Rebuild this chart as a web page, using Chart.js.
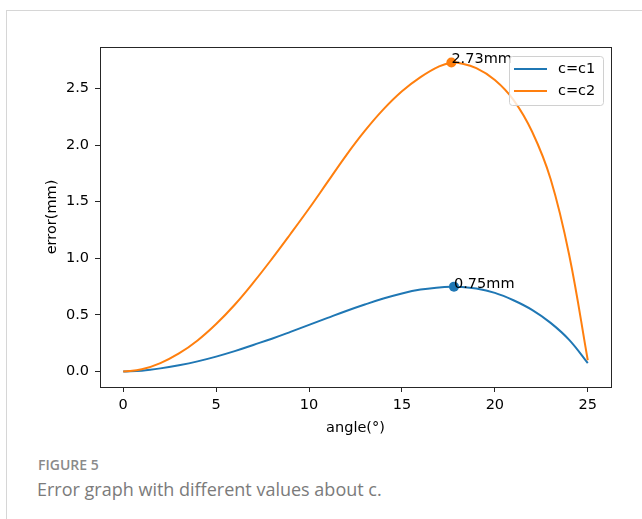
<!DOCTYPE html>
<html>
<head>
<meta charset="utf-8">
<script src="https://cdn.jsdelivr.net/npm/chart.js@4.4.0/dist/chart.umd.min.js"></script>
<style>
  body { margin: 0; background: #fff; }
  #frame { position: absolute; left: 6px; top: 10px; width: 700px; height: 520px;
           border-left: 1px solid #d6d6d6; border-top: 1px solid #d6d6d6; }
  #wrap { position: absolute; left: 0; top: 0; width: 642px; height: 440px; }
  .cap1 { position: absolute; left: 38px; top: 455px; font: 600 14px 'Open Sans'; color: #8a8a8a; }
  .cap2 { position: absolute; left: 37px; top: 477px; font: 18px 'Open Sans'; color: #7b7b7b; }
</style>
</head>
<body>
<div id="frame"></div>
<div id="wrap"><canvas id="errorChart" width="642" height="440"></canvas></div>
<div class="cap1">FIGURE 5</div>
<div class="cap2">Error graph with different values about c.</div>
<script>
// angle in degrees
const angles = [0, 1, 2, 3, 4, 5, 6, 7, 8, 9, 10, 11, 12, 13, 14, 15, 16, 17, 17.7, 18, 19, 20, 21, 22, 23, 24, 25];
const errC1 = [0, 0.008, 0.028, 0.056, 0.09, 0.132, 0.18, 0.235, 0.29, 0.35, 0.412, 0.474, 0.535, 0.592, 0.645, 0.69, 0.724, 0.743, 0.75, 0.75, 0.733, 0.695, 0.63, 0.545, 0.43, 0.28, 0.075];
const errC2 = [0, 0.02, 0.075, 0.16, 0.275, 0.42, 0.59, 0.785, 0.995, 1.215, 1.44, 1.675, 1.91, 2.125, 2.315, 2.475, 2.60, 2.695, 2.73, 2.727, 2.68, 2.575, 2.40, 2.12, 1.70, 1.03, 0.10];
const seriesNames = ['c=c1', 'c=c2'];
const peakAngles = [17.8, 17.66];
const peakErrors = [0.75, 2.73];
const peakLabels = ['0.75mm', '2.73mm'];
const xTicks = [0, 5, 10, 15, 20, 25];
const yTicks = [0, 0.5, 1.0, 1.5, 2.0, 2.5];

const blue = '#1f77b4';
const orange = '#ff7f0e';
const FONT = 'DejaVu Sans';
const FSIZE = 14.5;

function toPoints(xs, ys){
  return xs.map((x, i) => ({x: x, y: ys[i]}));
}

// box around the axes, legend and the peak labels
const extras = {
  id: 'extras',
  afterDraw(chart){
    const ctx = chart.ctx;
    const a = chart.chartArea;
    const xs = chart.scales.x, ys = chart.scales.y;
    ctx.save();
    ctx.strokeStyle = '#262626';
    ctx.lineWidth = 1;
    ctx.strokeRect(Math.round(a.left) + 0.5, Math.round(a.top) + 0.5, Math.round(a.right - a.left), Math.round(a.bottom - a.top));

    // peak labels
    ctx.fillStyle = '#000';
    ctx.font = FSIZE + 'px "' + FONT + '"';
    ctx.textAlign = 'left';
    ctx.textBaseline = 'alphabetic';
    peakLabels.forEach((t, i) => {
      ctx.fillText(t, xs.getPixelForValue(peakAngles[i]), ys.getPixelForValue(peakErrors[i]) + 1);
    });

    // legend
    const bw = 94, bh = 49;
    const bx = a.right - 8 - bw, by = a.top + 9;
    ctx.beginPath();
    ctx.roundRect(bx + 0.5, by + 0.5, bw, bh, 3);
    ctx.fillStyle = 'rgba(255,255,255,0.8)';
    ctx.fill();
    ctx.strokeStyle = '#d0d0d0';
    ctx.stroke();
    const cols = [blue, orange];
    ctx.textBaseline = 'middle';
    seriesNames.forEach((n, i) => {
      const yy = by + 13 + i * 22;
      ctx.beginPath();
      ctx.moveTo(bx + 5, yy);
      ctx.lineTo(bx + 38, yy);
      ctx.strokeStyle = cols[i];
      ctx.lineWidth = 2;
      ctx.stroke();
      ctx.fillStyle = '#000';
      ctx.fillText(n, bx + 49, yy);
    });
    ctx.restore();
  }
};

const ctx = document.getElementById('errorChart');
new Chart(ctx, {
  type: 'line',
  data: {
    datasets: [
      {
        label: seriesNames[0],
        data: toPoints(angles, errC1),
        borderColor: blue,
        borderWidth: 2,
        pointRadius: 0,
        tension: 0.4,
        order: 4
      },
      {
        label: seriesNames[1],
        data: toPoints(angles, errC2),
        borderColor: orange,
        borderWidth: 2,
        pointRadius: 0,
        tension: 0.4,
        order: 3
      },
      {
        label: 'peak c1',
        data: [{x: peakAngles[0], y: peakErrors[0]}],
        showLine: false,
        pointRadius: 5,
        pointBackgroundColor: blue,
        pointBorderWidth: 0,
        order: 2
      },
      {
        label: 'peak c2',
        data: [{x: peakAngles[1], y: peakErrors[1]}],
        showLine: false,
        pointRadius: 5,
        pointBackgroundColor: orange,
        pointBorderWidth: 0,
        order: 1
      }
    ]
  },
  options: {
    responsive: false,
    animation: false,
    layout: { padding: { left: 40, top: 47, right: 31, bottom: 0 } },
    scales: {
      x: {
        type: 'linear',
        min: -1.25,
        max: 26.25,
        afterFit: s => { s.height = 53; },
        afterBuildTicks: s => { s.ticks = xTicks.map(v => ({value: v})); },
        ticks: { color: '#000', padding: 5, font: { family: FONT, size: FSIZE }, callback: v => String(v) },
        grid: { drawOnChartArea: false, tickLength: 5, color: '#262626' },
        border: { display: false },
        title: { display: true, text: 'angle(°)', color: '#000', font: { family: FONT, size: FSIZE }, padding: { top: 2, bottom: 3 } }
      },
      y: {
        min: -0.1365,
        max: 2.8665,
        afterFit: s => { s.width = 60; },
        afterBuildTicks: s => { s.ticks = yTicks.map(v => ({value: v})); },
        ticks: { color: '#000', padding: 6, font: { family: FONT, size: FSIZE }, callback: v => v.toFixed(1) },
        grid: { drawOnChartArea: false, tickLength: 5, color: '#262626' },
        border: { display: false },
        title: { display: true, text: 'error(mm)', color: '#000', font: { family: FONT, size: FSIZE }, padding: { top: 4, bottom: 2 } }
      }
    },
    plugins: {
      legend: { display: false },
      tooltip: { enabled: false }
    }
  },
  plugins: [extras]
});
</script>
</body>
</html>
